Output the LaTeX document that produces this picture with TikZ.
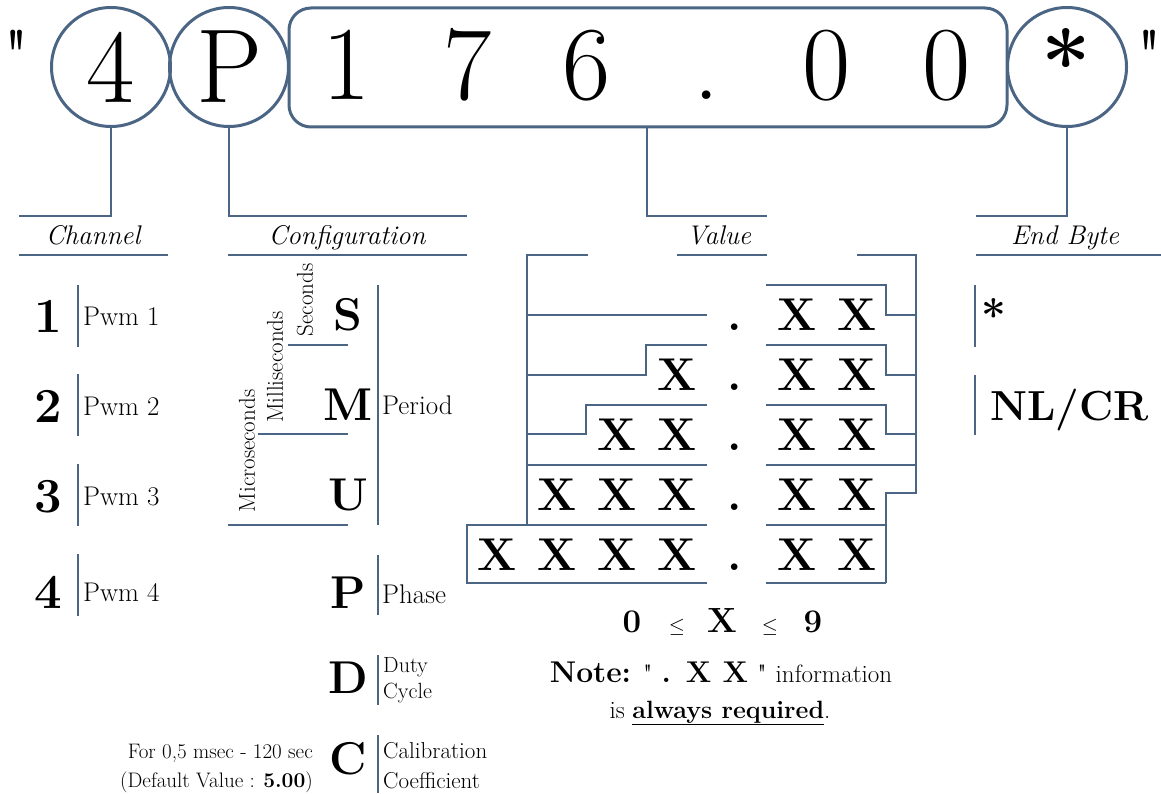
\documentclass[tikz,border=0pt]{standalone}
\definecolor{lc}{HTML}{4B6584}
\newcommand{\fs}[1]{\fontsize{#1}{#1}\selectfont}
\font\qfbig="[lmroman10-regular]" at 70pt
\font\qfsm="[lmroman10-regular]" at 25pt
\begin{document}
\begin{tikzpicture}[x=1pt,y=-1pt,
  ln/.style={draw=lc, line width=2pt},
  bigc/.style={circle, draw=lc, line width=3pt, minimum size=119pt, inner sep=0pt, font=\fs{105}},
  topd/.style={anchor=base, inner sep=0pt, font=\fs{105}},
  qt/.style={anchor=north, inner sep=0pt, font=\qfbig},
  lab/.style={anchor=base, inner sep=0pt, font=\fs{27}\itshape},
  chd/.style={anchor=base, inner sep=0pt, font=\fs{49}\bfseries},
  txt/.style={anchor=base west, inner sep=0pt, font=\fs{27}},
  cfl/.style={anchor=base, inner sep=0pt, font=\fs{46}\bfseries},
  rot/.style={rotate=90, inner sep=0pt, font=\fs{23}},
  sm/.style={anchor=base west, inner sep=0pt, font=\fs{22}},
  xx/.style={anchor=base, inner sep=0pt, font=\fs{46}\bfseries},
  nt/.style={anchor=base, inner sep=0pt}
]
\fill[white] (0,0) rectangle (1161,794);
\useasboundingbox (0,0) rectangle (1161,794);

% ---------- top row ----------
\node[qt] (ql) at (17,30) {"};
\node[qt] (qr) at (1150,30) {"};
\node[bigc] (c4) at (111,67) {4};
\node[bigc] (cP) at (229,67) {P};
\node[draw=lc, line width=3pt, rounded corners=22pt, minimum width=718pt, minimum height=119pt, inner sep=0pt] (vbox) at (648,67.5) {};
\node[bigc] (cS) at (1067,67) {};
\node[anchor=base, inner sep=0pt, font=\fs{88}\bfseries] (ast) at (1066,95) {*};
\node[topd] (d1) at (347,100) {1};
\node[topd] (d2) at (468,100) {7};
\node[topd] (d3) at (587,100) {6};
\node[topd] (d4) at (707,100) {.};
\node[topd] (d5) at (827,100) {0};
\node[topd] (d6) at (947,100) {0};

% ---------- headings ----------
\coordinate (chA) at (19,216);
\coordinate (chB1) at (19,255); \coordinate (chB2) at (168,255);
\draw[ln] (c4.south) |- (chA);
\draw[ln] (chB1) -- (chB2);
\node[lab] (chT) at (93,245) {Channel};

\coordinate (cfA) at (467,216);
\coordinate (cfB1) at (228,255); \coordinate (cfB2) at (467,255);
\draw[ln] (cP.south) |- (cfA);
\draw[ln] (cfB1) -- (cfB2);
\node[lab] (cfT) at (347,245) {Configuration};

\coordinate (vK) at (647,216); \coordinate (vA) at (767,216);
\coordinate (vB1) at (677,255); \coordinate (vB2) at (767,255);
\draw[ln] (vbox.south -| vK) -- (vK) -- (vA);
\draw[ln] (vB1) -- (vB2);
\node[lab] (vT) at (719,245) {Value};

\coordinate (ebA) at (976,216);
\coordinate (ebB1) at (976,255); \coordinate (ebB2) at (1161,255);
\draw[ln] (cS.south) |- (ebA);
\draw[ln] (ebB1) -- (ebB2);
\node[lab] (ebT) at (1065,245) {End Byte};

% ---------- channel ----------
\foreach \i/\yb/\yc in {1/332/316, 2/422/405, 3/512/495, 4/608/585} {
  \node[chd] (n\i) at (48,\yb) {\i};
  \draw[ln] (78,\yc-31) -- (78,\yc+31);
  \node[txt] (p\i) at (83,\yb-7) {Pwm \i};
}

% ---------- configuration ----------
\node[cfl] (kS) at (348,330) {S};
\node[cfl] (kM) at (348,420) {M};
\node[cfl] (kU) at (348,510) {U};
\node[cfl] (kP) at (348,608) {P};
\node[cfl] (kD) at (348,693) {D};
\node[cfl] (kC) at (348,774) {C};
\node[rot] (rS) at (305,300) {Seconds};
\node[rot] (rM) at (275,367) {Milliseconds};
\node[rot] (rU) at (247,451) {Microseconds};
\draw[ln] (288,345) -- (348,345);
\draw[ln] (258,434) -- (348,434);
\draw[ln] (228,525) -- (348,525);
\draw[ln] (378,285) -- (378,525);
\draw[ln] (378,555) -- (378,615);
\draw[ln] (378,655) -- (378,705);
\draw[ln] (378,735) -- (378,793);
\node[txt] (tPer) at (382,414) {Period};
\node[txt] (tPha) at (382,603) {Phase};
\node[sm] (tDu) at (383,672) {Duty};
\node[sm] (tCy) at (383,698) {Cycle};
\node[sm, font=\fs{23}] (tCa) at (383,758) {Calibration};
\node[sm, font=\fs{23}] (tCo) at (383,788) {Coefficient};
\node[anchor=base east, inner sep=0pt, font=\fs{21}] (f1) at (313,758) {For 0,5 msec - 120 sec};
\node[anchor=base east, inner sep=0pt, font=\fs{21}] (f2) at (313,787) {(Default Value : \textbf{5.00})};

% ---------- value grid ----------
\foreach \r/\yb/\cols in {1/330/{}, 2/390/{677}, 3/450/{617,677}, 4/510/{557,617,677}, 5/570/{497,557,617,677}} {
  \node[xx] (dot\r) at (735,\yb) {.};
  \node[xx] (xa\r) at (797,\yb) {X};
  \node[xx] (xb\r) at (857,\yb) {X};
  \foreach \c in \cols { \node[xx] at (\c,\yb) {X}; }
}
% brackets
\draw[ln] (588,255) -- (527,255) -- (527,525);
\draw[ln] (857,255) -- (916,255) -- (916,493) -- (886,493) -- (886,583);
% row 1
\draw[ln] (527,315) -- (707,315);
\draw[ln] (766,285) -- (886,285) -- (886,315) -- (916,315);
% row 2
\draw[ln] (707,345) -- (646,345) -- (646,375) -- (527,375);
\draw[ln] (766,345) -- (886,345) -- (886,375) -- (916,375);
% row 3
\draw[ln] (707,405) -- (586,405) -- (586,434) -- (527,434);
\draw[ln] (766,405) -- (886,405) -- (886,434) -- (916,434);
% row 4
\draw[ln] (527,465) -- (707,465);
\draw[ln] (766,465) -- (916,465);
% row 5
\draw[ln] (707,525) -- (467,525) -- (467,583) -- (707,583);
\draw[ln] (766,525) -- (886,525);
\draw[ln] (766,583) -- (886,583);

% ---------- end byte ----------
\draw[ln] (975,285) -- (975,347);
\draw[ln] (975,375) -- (975,435);
\node[anchor=base, inner sep=0pt, font=\fs{44}\bfseries] (eS) at (994,331) {*};
\node[anchor=base west, inner sep=0pt, font=\fs{42}\bfseries] (eN) at (990,420) {NL/CR};

% ---------- notes ----------
\node[nt, font=\fs{33}\bfseries] (z0) at (632,632) {0};
\node[nt, font=\fs{20}] (z1) at (677,632) {$\leq$};
\node[nt, font=\fs{35}\bfseries] (z2) at (722,632) {X};
\node[nt, font=\fs{20}] (z3) at (770,632) {$\leq$};
\node[nt, font=\fs{33}\bfseries] (z4) at (813,632) {9};
\node[nt] (note) at (721,682) {\fs{30}\textbf{Note:} {\qfsm"} \textbf{. X X} {\qfsm"} \fs{25}information};
\node[nt, font=\fs{25}] (req) at (720,718) {is \underline{\textbf{always required}}.};
\end{tikzpicture}
\end{document}
